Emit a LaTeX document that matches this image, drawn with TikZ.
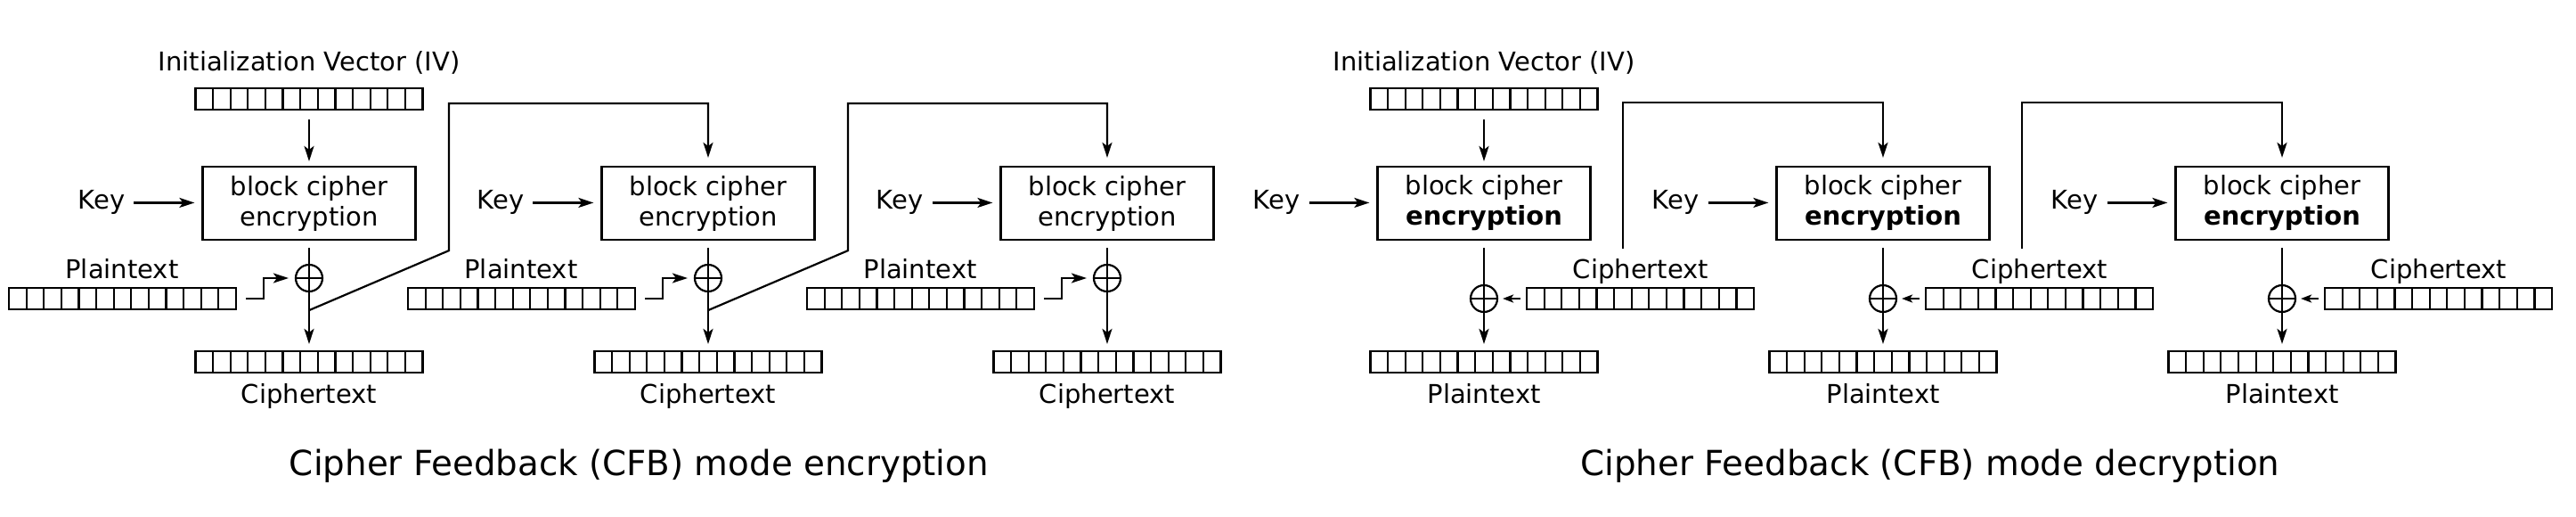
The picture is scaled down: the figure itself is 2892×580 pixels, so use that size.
\documentclass[tikz,border=0pt]{standalone}
\usepackage{fontspec}
\setmainfont{DejaVu Sans}
\usetikzlibrary{arrows.meta}
\begin{document}
\begin{tikzpicture}[x=1pt,y=-1pt,
  lw/.style={line width=2.2pt},
  lbl/.style={inner sep=0pt,font=\fontsize{29pt}{34pt}\selectfont},
  ttl/.style={inner sep=0pt,anchor=base,font=\fontsize{38.8pt}{46pt}\selectfont},
  reg/.style={draw,lw,rectangle,inner sep=0pt,minimum width=255pt,minimum height=24pt,
    path picture={\foreach \i in {1,...,12}{\draw[lw] ([xshift=\i*19.615pt]path picture bounding box.south west) -- ([xshift=\i*19.615pt]path picture bounding box.north west);}}},
  blk/.style={draw,lw,rectangle,inner sep=0pt,minimum width=239pt,minimum height=82pt,align=center,font=\fontsize{29pt}{34pt}\selectfont},
  xor/.style={draw,lw,circle,inner sep=0pt,minimum size=30pt,
    path picture={\draw[lw] (path picture bounding box.north) -- (path picture bounding box.south) (path picture bounding box.west) -- (path picture bounding box.east);}},
  ln/.style={lw},
  arr/.style={lw,-{Stealth[length=17pt,width=11pt,inset=4pt]}},
  sarr/.style={lw,-{Stealth[length=12pt,width=9pt,inset=3pt]}}
]
\useasboundingbox (0,0) rectangle (2892,580);
% ================= ENCRYPTION =================
\node[lbl,anchor=base] (ivl) at (347,80) {Initialization Vector (IV)};
\node[reg] (iv) at (347,111) {};
% column 1
\node[blk] (b1) at (347,228) {block cipher\\encryption};
\node[lbl,anchor=base] (k1) at (114,235) {Key};
\node[xor] (x1) at (347,312) {};
\node[reg] (c1) at (347,406) {};
\node[lbl,anchor=base] (c1l) at (347,452) {Ciphertext};
\node[reg] (p1) at (137.5,335) {};
\node[lbl,anchor=base] (p1l) at (137,312) {Plaintext};
% column 2
\node[blk] (b2) at (795,228) {block cipher\\encryption};
\node[lbl,anchor=base] (k2) at (562,235) {Key};
\node[xor] (x2) at (795,312) {};
\node[reg] (c2) at (795,406) {};
\node[lbl,anchor=base] (c2l) at (795,452) {Ciphertext};
\node[reg] (p2) at (585.5,335) {};
\node[lbl,anchor=base] (p2l) at (585,312) {Plaintext};
% column 3
\node[blk] (b3) at (1243,228) {block cipher\\encryption};
\node[lbl,anchor=base] (k3) at (1010,235) {Key};
\node[xor] (x3) at (1243,312) {};
\node[reg] (c3) at (1243,406) {};
\node[lbl,anchor=base] (c3l) at (1243,452) {Ciphertext};
\node[reg] (p3) at (1033.5,335) {};
\node[lbl,anchor=base] (p3l) at (1033,312) {Plaintext};
% connectors
\draw[arr,shorten <=10pt,shorten >=5pt] (iv.south) -- (b1.north);
\foreach \n in {1,2,3}{
  \draw[arr,shorten <=10pt,shorten >=8pt] (k\n.east) -- (k\n.east -| b\n.west);
  \draw[ln,shorten <=8pt] (b\n.south) -- (x\n.north);
  \draw[arr,shorten >=7pt] (x\n.south) -- (c\n.north);
  \draw[arr,shorten >=7pt] ([xshift=10pt]p\n.east) -- ++(20,0) |- (x\n.west);
}
\path (x1.south) ++(0,20) coordinate (f1);
\path (x2.south) ++(0,20) coordinate (f2);
\draw[arr,shorten >=9pt] (f1) -- ++(157,-67) -- ++(0,-165) -| (b2.north);
\draw[arr,shorten >=9pt] (f2) -- ++(157,-67) -- ++(0,-165) -| (b3.north);
\node[ttl] (t1) at (717.5,533) {Cipher Feedback (CFB) mode encryption};
% ================= DECRYPTION =================
\node[lbl,anchor=base] (divl) at (1666,80) {Initialization Vector (IV)};
\node[reg] (div) at (1666,111) {};
% column 1
\node[blk] (db1) at (1666,228) {block cipher\\\textbf{encryption}};
\node[lbl,anchor=base] (dk1) at (1433,235) {Key};
\node[xor] (dx1) at (1666,335) {};
\node[reg] (dp1) at (1666,406) {};
\node[lbl,anchor=base] (dp1l) at (1666,452) {Plaintext};
\node[reg] (dc1) at (1841.5,335) {};
\node[lbl,anchor=base] (dc1l) at (1842,312) {Ciphertext};
% column 2
\node[blk] (db2) at (2114,228) {block cipher\\\textbf{encryption}};
\node[lbl,anchor=base] (dk2) at (1881,235) {Key};
\node[xor] (dx2) at (2114,335) {};
\node[reg] (dp2) at (2114,406) {};
\node[lbl,anchor=base] (dp2l) at (2114,452) {Plaintext};
\node[reg] (dc2) at (2289.5,335) {};
\node[lbl,anchor=base] (dc2l) at (2290,312) {Ciphertext};
% column 3
\node[blk] (db3) at (2562,228) {block cipher\\\textbf{encryption}};
\node[lbl,anchor=base] (dk3) at (2329,235) {Key};
\node[xor] (dx3) at (2562,335) {};
\node[reg] (dp3) at (2562,406) {};
\node[lbl,anchor=base] (dp3l) at (2562,452) {Plaintext};
\node[reg] (dc3) at (2737.5,335) {};
\node[lbl,anchor=base] (dc3l) at (2738,312) {Ciphertext};
% connectors
\draw[arr,shorten <=10pt,shorten >=5pt] (div.south) -- (db1.north);
\foreach \n in {1,2,3}{
  \draw[arr,shorten <=10pt,shorten >=8pt] (dk\n.east) -- (dk\n.east -| db\n.west);
  \draw[ln,shorten <=8pt] (db\n.south) -- (dx\n.north);
  \draw[arr,shorten >=7pt] (dx\n.south) -- (dp\n.north);
  \draw[sarr,shorten <=6pt,shorten >=5pt] (dc\n.west) -- (dx\n.east);
}
\coordinate (df1) at (1822,279);
\coordinate (df2) at (2270,279);
\draw[arr,shorten >=9pt] (df1) -- ++(0,-164) -| (db2.north);
\draw[arr,shorten >=9pt] (df2) -- ++(0,-164) -| (db3.north);
\node[ttl] (t2) at (2167,533) {Cipher Feedback (CFB) mode decryption};
\end{tikzpicture}
\end{document}
